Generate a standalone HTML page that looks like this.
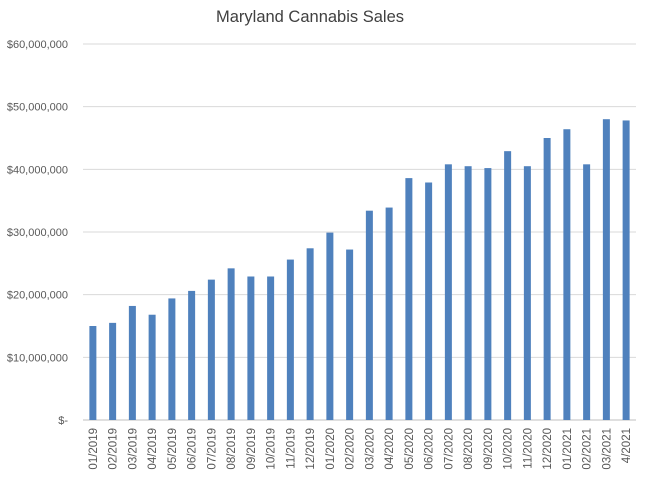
<!DOCTYPE html>
<html><head><meta charset="utf-8"><style>
body{margin:0;background:#fff}
svg text{font-family:"Liberation Sans",sans-serif;fill:#595959}
</style></head><body>
<svg width="646" height="475" id="c">
<text x="310" y="22" font-size="16.5" text-anchor="middle" style="fill:#404040">Maryland Cannabis Sales</text>
</svg>
<script>
const categories=["01/2019","02/2019","03/2019","04/2019","05/2019","06/2019","07/2019","08/2019","09/2019","10/2019","11/2019","12/2019","01/2020","02/2020","03/2020","04/2020","05/2020","06/2020","07/2020","08/2020","09/2020","10/2020","11/2020","12/2020","01/2021","02/2021","03/2021","4/2021"];
const sales=[15.0,15.5,18.2,16.8,19.4,20.6,22.4,24.2,22.9,22.9,25.6,27.4,29.9,27.2,33.4,33.9,38.6,37.9,40.8,40.5,40.2,42.9,40.5,45.0,46.4,40.8,48.0,47.8];
const ticks=[0,10,20,30,40,50,60];
const tickLabels=["$-","$10,000,000","$20,000,000","$30,000,000","$40,000,000","$50,000,000","$60,000,000"];
const svg=document.getElementById('c');const NS="http://www.w3.org/2000/svg";
const x0=83,x1=636,yBase=420,yTop=44;
const y=v=>yBase-(v/60)*(yBase-yTop);
const step=(x1-x0)/categories.length;
const xc=i=>x0+step*(i+0.5);
function mk(t,a){const e=document.createElementNS(NS,t);for(const k in a)e.setAttribute(k,a[k]);svg.appendChild(e);return e;}
ticks.forEach((t,i)=>{
 const l=mk('line',{x1:x0,x2:x1,y1:y(t),y2:y(t),stroke:i?'#d9d9d9':'#bfbfbf','stroke-width':1});
 
 
 const tx=mk('text',{x:68,y:y(t)+4,'font-size':11,'text-anchor':'end'});tx.textContent=tickLabels[i];
 
 
});
categories.forEach((c,i)=>{
 const b=mk('rect',{x:xc(i)-3.5,y:y(sales[i]),width:7,height:yBase-y(sales[i]),fill:'#4f81bd'});
 
 
 const t=mk('text',{x:0,y:0,'font-size':11.5,'text-anchor':'end',transform:`translate(${xc(i)+4},${yBase+8}) rotate(-90)`});
 t.textContent=c;
 
 
});
</script>
</body></html>
